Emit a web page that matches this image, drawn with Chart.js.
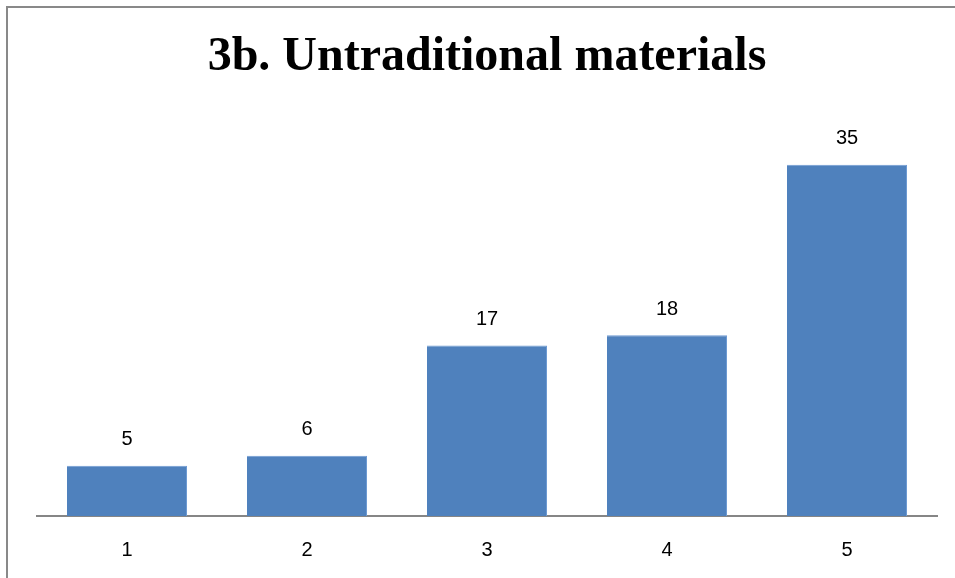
<!DOCTYPE html>
<html>
<head>
<meta charset="utf-8">
<title>3b. Untraditional materials</title>
<script src="https://cdn.jsdelivr.net/npm/chart.js@4/dist/chart.umd.min.js"></script>
<style>
  html, body { margin: 0; padding: 0; background: #fff; }
  #wrap { width: 955px; height: 578px; position: relative; }
</style>
</head>
<body>
<div id="wrap"><canvas id="chart"></canvas></div>
<script>
const categories = ['1', '2', '3', '4', '5'];
const counts = [5, 6, 17, 18, 35];
const yMax = 40;

// frame line along the top and left edge
const framePlugin = {
  id: 'frame',
  beforeDraw(chart) {
    const ctx = chart.ctx;
    ctx.save();
    ctx.strokeStyle = '#898989';
    ctx.lineWidth = 2;
    ctx.beginPath();
    ctx.moveTo(7, chart.height + 5);
    ctx.lineTo(7, 7);
    ctx.lineTo(chart.width + 5, 7);
    ctx.stroke();
    ctx.restore();
  }
};

// value labels above each bar
const valueLabels = {
  id: 'valueLabels',
  afterDatasetsDraw(chart) {
    const ctx = chart.ctx;
    const meta = chart.getDatasetMeta(0);
    ctx.save();
    ctx.fillStyle = '#000';
    ctx.font = '20px "Liberation Sans", Arial, sans-serif';
    ctx.textAlign = 'center';
    ctx.textBaseline = 'middle';
    meta.data.forEach((bar, i) => {
      ctx.fillText(String(counts[i]), bar.x, bar.y - 26);
    });
    ctx.restore();
  }
};

new Chart(document.getElementById('chart'), {
  type: 'bar',
  data: {
    labels: categories,
    datasets: [{
      data: counts,
      backgroundColor: '#4F81BD',
      borderColor: '#6F9BD3',
      borderWidth: { left: 0, right: 1, top: 1, bottom: 0 },
      barPercentage: 0.667,
      categoryPercentage: 1
    }]
  },
  options: {
    responsive: true,
    maintainAspectRatio: false,
    animation: false,
    layout: { padding: { left: 37, right: 18, top: 0, bottom: 0 } },
    plugins: {
      legend: { display: false },
      tooltip: { enabled: false },
      title: {
        display: true,
        text: '3b. Untraditional materials',
        color: '#000',
        fullSize: false,
        font: { family: '"Liberation Serif", "Times New Roman", serif', size: 48, weight: 'bold', lineHeight: 1.2 },
        padding: { top: 29, bottom: 28 }
      }
    },
    scales: {
      x: {
        grid: { display: false },
        border: { color: '#868686', width: 2 },
        ticks: {
          color: '#000',
          font: { family: '"Liberation Sans", Arial, sans-serif', size: 20 },
          padding: 14
        },
        afterFit(scale) { scale.height = 62; }
      },
      y: {
        display: false,
        min: 0,
        max: yMax
      }
    }
  },
  plugins: [framePlugin, valueLabels]
});
</script>
</body>
</html>
